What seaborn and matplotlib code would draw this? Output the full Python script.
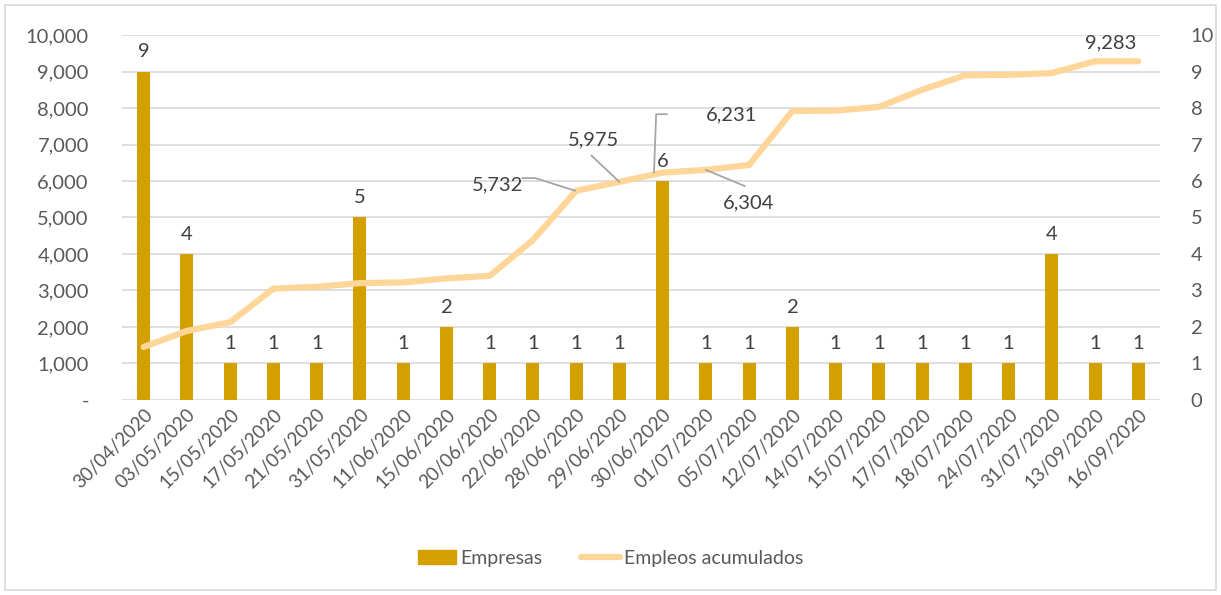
import numpy as np
import pandas as pd
import seaborn as sns
import matplotlib.pyplot as plt
from matplotlib.patches import Rectangle
from matplotlib.lines import Line2D
from matplotlib.ticker import FuncFormatter

# data
fechas = ["30/04/2020", "03/05/2020", "15/05/2020", "17/05/2020", "21/05/2020",
          "31/05/2020", "11/06/2020", "15/06/2020", "20/06/2020", "22/06/2020",
          "28/06/2020", "29/06/2020", "30/06/2020", "01/07/2020", "05/07/2020",
          "12/07/2020", "14/07/2020", "15/07/2020", "17/07/2020", "18/07/2020",
          "24/07/2020", "31/07/2020", "13/09/2020", "16/09/2020"]
empresas = [9, 4, 1, 1, 1, 5, 1, 2, 1, 1, 1, 1, 6, 1, 1, 2, 1, 1, 1, 1, 1, 4, 1, 1]
empleos = [1450, 1890, 2130, 3050, 3100, 3200, 3220, 3330, 3400, 4380,
           5732, 5975, 6231, 6304, 6440, 7920, 7930, 8030, 8500, 8900,
           8910, 8960, 9283, 9283]

BAR_COLOR = "#D4A000"
LINE_COLOR = "#FFD699"
TEXT = "#595959"
GRID = "#D9D9D9"

sns.set_theme(style="white")
plt.rcParams["font.family"] = ["Lato", "DejaVu Sans"]

df = pd.DataFrame({"fecha": fechas, "empresas": empresas, "empleos": empleos})

fig = plt.figure(figsize=(12.21, 5.95), dpi=100)
ax = fig.add_axes([0.1, 0.328, 0.85, 0.613])

# bars on primary axis (scale shown on the right)
sns.barplot(data=df, x="fecha", y="empresas", color=BAR_COLOR, width=0.3,
            saturation=1, linewidth=0, ax=ax)
ax.set_ylim(0, 10)
ax.set_xlim(-0.5, len(fechas) - 0.5)
ax.set_yticks(range(0, 11))
ax.grid(axis="y", color=GRID, linewidth=1.2)
ax.set_axisbelow(True)
ax.bar_label(ax.containers[0], padding=8, fontsize=14.5, color="#404040")
ax.set_xlabel("")
ax.set_ylabel("")
for s in ax.spines.values():
    s.set_visible(False)

# cumulative jobs line on twin axis (scale on the left)
ax2 = ax.twinx()
sns.lineplot(x=np.arange(len(fechas)), y=empleos, color=LINE_COLOR,
             linewidth=4.5, ax=ax2, solid_capstyle="round")
ax2.set_ylim(0, 10000)
ax2.set_yticks(range(0, 10001, 1000))
ax2.yaxis.tick_left()
ax2.yaxis.set_major_formatter(FuncFormatter(lambda v, p: "-" if v == 0 else f"{int(v):,}"))
ax2.tick_params(axis="y", labelsize=14.5, labelcolor=TEXT, length=0, pad=24)
ax2.grid(False)
for s in ax2.spines.values():
    s.set_visible(False)

# move bar scale to the right, after twinx
ax.yaxis.tick_right()
ax.tick_params(axis="y", labelsize=14.5, labelcolor=TEXT, length=0, pad=22)
ax.tick_params(axis="x", labelsize=13.5, labelcolor=TEXT, length=0, pad=4)
plt.setp(ax.get_xticklabels(), rotation=45, ha="right", rotation_mode="anchor")

# line data labels with leader lines
lead = dict(color="#A6A6A6", linewidth=1.3)
lbl = dict(fontsize=14.5, color="#404040", ha="center", va="center")
ax2.text(8.19, 5890, "5,732", **lbl)
ax2.plot([8.75, 9.05, 10.0 - 0.02], [6080, 6080, 5732], **lead)
ax2.text(10.4, 7120, "5,975", **lbl)
ax2.plot([10.35, 11.0], [6700, 5975], **lead)
ax2.text(13.6, 7800, "6,231", **lbl)
ax2.plot([12.1, 11.85, 11.8], [7830, 7830, 6231], **lead)
ax2.text(13.98, 5400, "6,304", **lbl)
ax2.plot([13.9, 13.0], [5860, 6304], **lead)
ax2.text(22.36, 9800, "9,283", **lbl)

# legend
handles = [Rectangle((0, 0), 1, 1, color=BAR_COLOR),
           Line2D([0], [0], color=LINE_COLOR, linewidth=4.5, solid_capstyle="round")]
fig.legend(handles, ["Empresas", "Empleos acumulados"], loc="center",
           bbox_to_anchor=(0.5, 0.062), ncol=2, frameon=False, fontsize=14,
           labelcolor=TEXT, handlelength=2.0, handletextpad=0.2, columnspacing=2.0)

# light frame around the chart
fig.patches.append(Rectangle((0.004, 0.008), 0.992, 0.984, transform=fig.transFigure,
                             fill=False, edgecolor=GRID, linewidth=1.2))

fig.savefig("out.png", dpi=100)
